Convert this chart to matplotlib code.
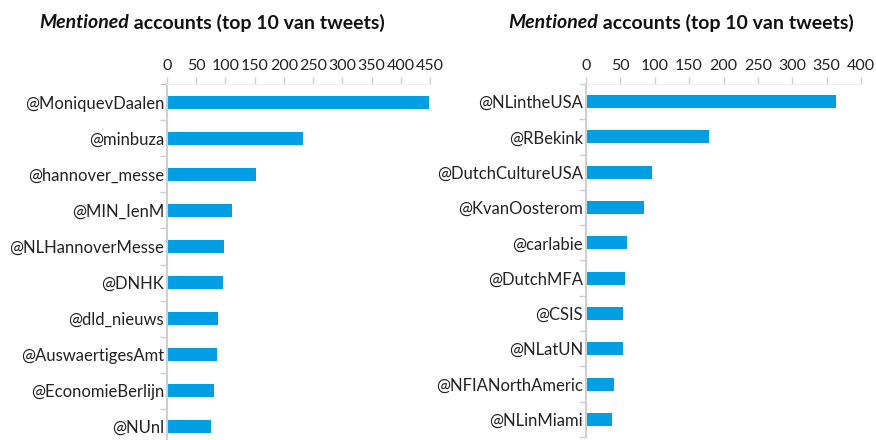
import matplotlib
matplotlib.use("Agg")
import matplotlib.pyplot as plt
import numpy as np

plt.rcParams['font.family'] = ['Lato', 'DejaVu Sans']

# data
left_accounts = ["@MoniquevDaalen", "@minbuza", "@hannover_messe", "@MIN_IenM",
                 "@NLHannoverMesse", "@DNHK", "@dld_nieuws", "@AuswaertigesAmt",
                 "@EconomieBerlijn", "@NUnl"]
left_counts = [448, 232, 153, 112, 98, 96, 87, 85, 81, 76]
left_ticks = [0, 50, 100, 150, 200, 250, 300, 350, 400, 450]

right_accounts = ["@NLintheUSA", "@RBekink", "@DutchCultureUSA", "@KvanOosterom",
                  "@carlabie", "@DutchMFA", "@CSIS", "@NLatUN",
                  "@NFIANorthAmeric", "@NLinMiami"]
right_counts = [364, 179, 96, 85, 59, 57, 54, 54, 40, 38]
right_ticks = [0, 50, 100, 150, 200, 250, 300, 350, 400]

title_it = "Mentioned"
title_rest = " accounts (top 10 van tweets)"

BLUE = "#009fe3"
GREY = "#cfcfcf"
W, H = 876, 440

fig = plt.figure(figsize=(W / 100, H / 100), dpi=100)


def px_axes(x0, x1, ytop, ybot):
    return fig.add_axes([x0 / W, 1 - ybot / H, (x1 - x0) / W, (ybot - ytop) / H])


def draw_panel(ax, names, vals, ticks, ylim_bottom):
    n = len(names)
    ax.barh(np.arange(n), vals, height=0.37, color=BLUE)
    ax.set_xlim(0, ticks[-1])
    ax.set_ylim(ylim_bottom, -0.5)
    ax.xaxis.tick_top()
    ax.set_xticks(ticks)
    ax.tick_params(axis="x", direction="out", length=5, width=1, color=GREY,
                   labelsize=11.5, pad=3, labelcolor="#222222")
    ax.set_yticks(np.arange(n))
    ax.set_yticklabels(names)
    ax.tick_params(axis="y", length=0, labelsize=12, pad=2, labelcolor="#222222")
    ax.set_yticks(np.arange(n + 1) - 0.5, minor=True)
    ax.tick_params(axis="y", which="minor", length=5, width=1, color=GREY)
    for s in ["right", "bottom"]:
        ax.spines[s].set_visible(False)
    ax.spines["left"].set_color(GREY)
    ax.spines["left"].set_linewidth(1.5)
    ax.spines["top"].set_color("#eeeeee")
    ax.spines["top"].set_linewidth(0.8)


ax1 = px_axes(167, 430, 84.5, 444.5)
draw_panel(ax1, left_accounts, left_counts, left_ticks, 9.5)
ax2 = px_axes(586, 861, 84, 437)
draw_panel(ax2, right_accounts, right_counts, right_ticks, 9.5)


def two_part_title(xc, yc):
    r = fig.canvas.get_renderer()
    t1 = fig.text(0, 0, title_it, fontsize=14, fontweight="bold", fontstyle="italic")
    t2 = fig.text(0, 0, title_rest, fontsize=14, fontweight="bold")
    w1 = t1.get_window_extent(r).width
    w2 = t2.get_window_extent(r).width
    x0 = xc - (w1 + w2) / 2
    for t, x in [(t1, x0), (t2, x0 + w1)]:
        t.set_position((x / W, 1 - yc / H))
        t.set_va("center")
        t.set_color("#111111")


two_part_title(212, 23)
two_part_title(681, 23)

fig.savefig("out.png", dpi=100)
